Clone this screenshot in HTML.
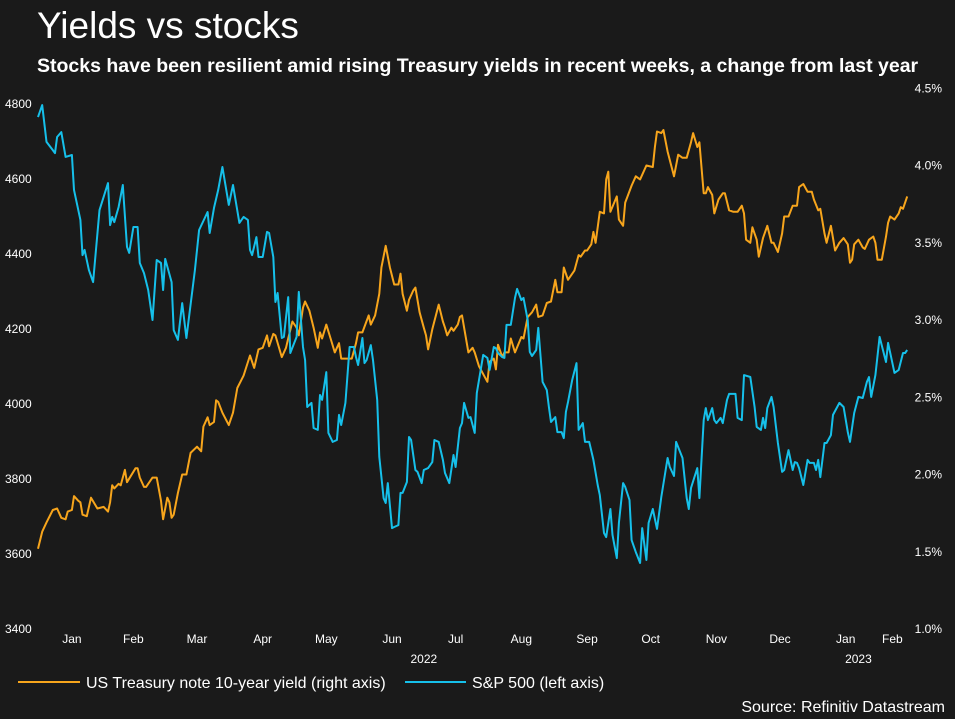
<!DOCTYPE html>
<html><head><meta charset="utf-8">
<style>
html,body{margin:0;padding:0;background:#1a1a1a;}
body{width:955px;height:719px;overflow:hidden;font-family:"Liberation Sans",Arial,sans-serif;color:#fff;position:relative;}
#title{position:absolute;left:37px;top:5px;font-size:37px;color:#fff;}
#subtitle{position:absolute;left:37px;top:55px;font-size:19.5px;font-weight:bold;color:#fff;white-space:nowrap;}
svg{position:absolute;left:0;top:0;}
</style></head><body>
<div id="title">Yields vs stocks</div>
<div id="subtitle">Stocks have been resilient amid rising Treasury yields in recent weeks, a change from last year</div>
<svg id="chart" width="955" height="719"></svg>
<script>
const leftTicks=[3400,3600,3800,4000,4200,4400,4600,4800];
const rightTicks=[1.0,1.5,2.0,2.5,3.0,3.5,4.0,4.5];
const monthLabels=["Jan","Feb","Mar","Apr","May","Jun","Jul","Aug","Sep","Oct","Nov","Dec","Jan","Feb"];
const monthDays=[16,45,75,106,136,167,197,228,259,289,320,350,381,403];
const yearLabels=["2022","2023"];
const yearDays=[182,387];
const spxDays=[0,2,4,7,8,9,11,13,16,17,20,21,22,24,26,29,33,34,35,36,38,40,42,43,45,47,48,50,52,54,56,58,59,60,63,64,66,68,70,74,76,80,81,83,85,87,90,92,95,97,99,100,101,103,104,106,108,109,111,112,113,115,116,118,119,122,123,125,126,127,129,130,132,133,134,136,137,139,141,142,143,145,147,149,150,151,153,154,155,157,158,160,161,163,164,165,167,168,170,171,172,174,175,176,178,179,181,182,184,186,187,189,191,192,194,196,197,199,200,201,203,204,206,207,208,210,212,213,215,216,217,219,220,221,223,225,226,228,229,231,232,233,235,236,238,240,241,242,244,245,247,248,249,250,252,254,255,257,258,260,262,264,265,267,268,270,271,273,274,276,277,279,280,282,284,285,287,288,290,292,294,297,298,300,301,304,306,307,308,311,312,314,315,316,318,319,320,322,323,325,326,329,330,332,333,336,338,339,341,342,343,344,346,347,349,351,352,354,356,357,358,359,361,363,364,366,367,368,369,371,372,374,375,378,380,382,383,385,387,389,391,392,393,395,397,400,401,404,406,408,409,410];
const spxValues=[4765,4797,4699,4677,4669,4712,4725,4659,4664,4571,4491,4397,4411,4357,4325,4517,4589,4477,4499,4485,4525,4584,4419,4403,4472,4472,4376,4349,4304,4224,4384,4376,4304,4387,4325,4197,4171,4269,4176,4357,4464,4512,4456,4523,4571,4632,4531,4584,4483,4499,4491,4411,4397,4445,4392,4392,4459,4456,4392,4272,4296,4176,4179,4285,4136,4179,4299,4152,4117,3992,4003,3936,3931,4024,4011,4085,3923,3899,3904,3971,3944,4003,4152,4152,4125,4104,4176,4109,4117,4157,4117,4011,3859,3749,3736,3789,3669,3672,3677,3763,3763,3792,3912,3904,3824,3819,3789,3824,3829,3845,3904,3899,3851,3816,3789,3864,3832,3936,3949,4003,3963,3965,3923,4029,4064,4131,4123,4091,4152,4149,4136,4125,4123,4211,4211,4283,4307,4277,4283,4224,4139,4128,4144,4203,4059,4037,3992,3952,3965,3925,3925,3909,3979,4005,4064,4109,3931,3949,3899,3899,3851,3784,3757,3656,3645,3720,3651,3589,3683,3789,3779,3744,3637,3605,3576,3669,3584,3683,3720,3667,3752,3856,3832,3808,3899,3856,3749,3720,3776,3829,3749,3957,3989,3957,3989,3957,3949,3963,3949,4011,4027,4027,3963,3957,4077,4072,3992,3939,3931,3963,3936,3989,4019,3992,3896,3819,3824,3877,3824,3845,3843,3829,3784,3851,3843,3843,3824,3851,3805,3896,3896,3917,3971,4003,3992,3925,3899,3976,4019,4016,4059,4072,4019,4077,4179,4112,4163,4083,4091,4136,4136,4144];
const yieldDays=[0,2,4,7,9,11,13,14,16,17,19,20,21,23,25,28,31,33,34,35,36,38,39,41,42,46,47,48,50,51,54,56,58,59,61,62,63,64,66,68,70,72,75,77,78,80,81,83,84,85,87,90,92,94,97,100,102,104,106,108,109,111,112,115,117,118,120,122,123,125,126,128,130,132,133,134,136,138,140,142,143,148,150,151,153,156,157,159,161,162,164,166,168,170,171,172,174,175,177,178,180,182,183,184,186,189,191,192,193,195,196,198,199,200,203,205,206,208,212,213,215,216,217,219,220,222,223,225,228,229,231,233,235,236,238,240,242,244,245,247,248,250,253,255,256,258,259,261,262,263,265,267,268,269,270,273,274,276,277,280,282,284,287,290,291,292,294,295,297,300,302,304,306,308,309,311,312,314,315,316,318,319,321,323,324,326,328,330,332,333,334,336,337,339,340,342,344,346,347,349,351,352,354,356,358,359,361,363,365,366,368,369,371,372,374,375,376,378,380,382,383,384,385,387,389,390,392,394,395,396,398,400,401,402,404,406,407,408,410];
const yieldValues=[1.52,1.63,1.69,1.77,1.78,1.72,1.71,1.76,1.77,1.86,1.83,1.82,1.74,1.73,1.85,1.78,1.79,1.76,1.82,1.93,1.91,1.94,1.93,2.03,1.95,2.04,2.04,1.98,1.92,1.92,1.98,1.98,1.83,1.71,1.85,1.82,1.72,1.74,1.88,2.00,2.00,2.14,2.18,2.15,2.31,2.37,2.32,2.34,2.48,2.47,2.40,2.32,2.40,2.56,2.64,2.77,2.69,2.81,2.82,2.90,2.83,2.91,2.90,2.76,2.82,2.88,2.99,2.95,2.90,3.08,3.12,3.06,2.95,2.82,2.92,2.88,2.97,2.88,2.79,2.85,2.75,2.75,2.85,2.92,2.92,3.03,2.97,3.03,3.17,3.34,3.48,3.34,3.23,3.23,3.30,3.17,3.06,3.13,3.19,3.21,3.05,2.95,2.90,2.81,2.94,3.10,2.99,2.95,2.90,2.95,2.93,2.97,3.02,3.03,2.79,2.82,2.79,2.70,2.60,2.73,2.75,2.68,2.84,2.76,2.79,2.79,2.88,2.79,2.89,2.88,3.02,3.05,3.10,3.02,3.03,3.11,3.12,3.26,3.18,3.18,3.34,3.26,3.32,3.42,3.41,3.45,3.45,3.49,3.57,3.50,3.70,3.69,3.91,3.96,3.70,3.80,3.65,3.61,3.76,3.87,3.93,3.91,4.00,3.99,4.12,4.22,4.21,4.23,4.09,3.93,4.07,4.05,4.05,4.15,4.21,4.12,4.15,3.82,3.82,3.86,3.81,3.69,3.78,3.82,3.82,3.71,3.70,3.70,3.74,3.69,3.52,3.50,3.60,3.52,3.41,3.53,3.61,3.50,3.50,3.44,3.56,3.67,3.67,3.74,3.74,3.86,3.88,3.83,3.83,3.78,3.71,3.72,3.56,3.50,3.61,3.53,3.45,3.50,3.53,3.49,3.37,3.39,3.49,3.52,3.47,3.46,3.52,3.54,3.50,3.39,3.39,3.54,3.63,3.67,3.65,3.69,3.73,3.72,3.80];

const NS="http://www.w3.org/2000/svg";
const svg=document.getElementById('chart');
const xS=d=>38+d*2.12;
const yL=v=>629-(v-3400)*0.375;
const yR=v=>629-(v-1.0)*154.5;
function mk(tag,attrs,txt){const e=document.createElementNS(NS,tag);for(const k in attrs)e.setAttribute(k,attrs[k]);if(txt!==undefined)e.textContent=txt;svg.appendChild(e);return e;}
const lab={fill:"#fff","font-family":"Liberation Sans, Arial, sans-serif","font-size":"12"};
leftTicks.forEach(v=>{const t=mk('text',Object.assign({x:5,y:yL(v)+4},lab),String(v));

});
rightTicks.forEach(v=>{const t=mk('text',Object.assign({x:942,y:yR(v)+4,"text-anchor":"end"},lab),v.toFixed(1)+"%");

});
monthLabels.forEach((m,i)=>{const t=mk('text',Object.assign({x:xS(monthDays[i]),y:643,"text-anchor":"middle"},lab),m);

});
yearLabels.forEach((m,i)=>{const t=mk('text',Object.assign({x:xS(yearDays[i]),y:663,"text-anchor":"middle"},lab),m);

});
function line(days,vals,ys,color,name){const p=days.map((d,i)=>xS(d).toFixed(1)+","+ys(vals[i]).toFixed(1)).join(" ");
const l=mk('polyline',{points:p,fill:"none",stroke:color,"stroke-width":"2","stroke-linejoin":"round"});

}
line(yieldDays,yieldValues,yR,"#f7a51c","yield-line");
line(spxDays,spxValues,yL,"#16c0ea","sp500-line");
const lg1=mk('line',{x1:18,y1:682,x2:80,y2:682,stroke:"#f7a51c","stroke-width":"2"});


const lt1=mk('text',Object.assign({x:86,y:688},lab,{"font-size":"16"}),"US Treasury note 10-year yield (right axis)");


const lg2=mk('line',{x1:405,y1:682,x2:466,y2:682,stroke:"#16c0ea","stroke-width":"2"});


const lt2=mk('text',Object.assign({x:472,y:688},lab,{"font-size":"16"}),"S&P 500 (left axis)");


const src=mk('text',Object.assign({x:945,y:712,"text-anchor":"end"},lab,{"font-size":"16"}),"Source: Refinitiv Datastream");


</script>
</body></html>
